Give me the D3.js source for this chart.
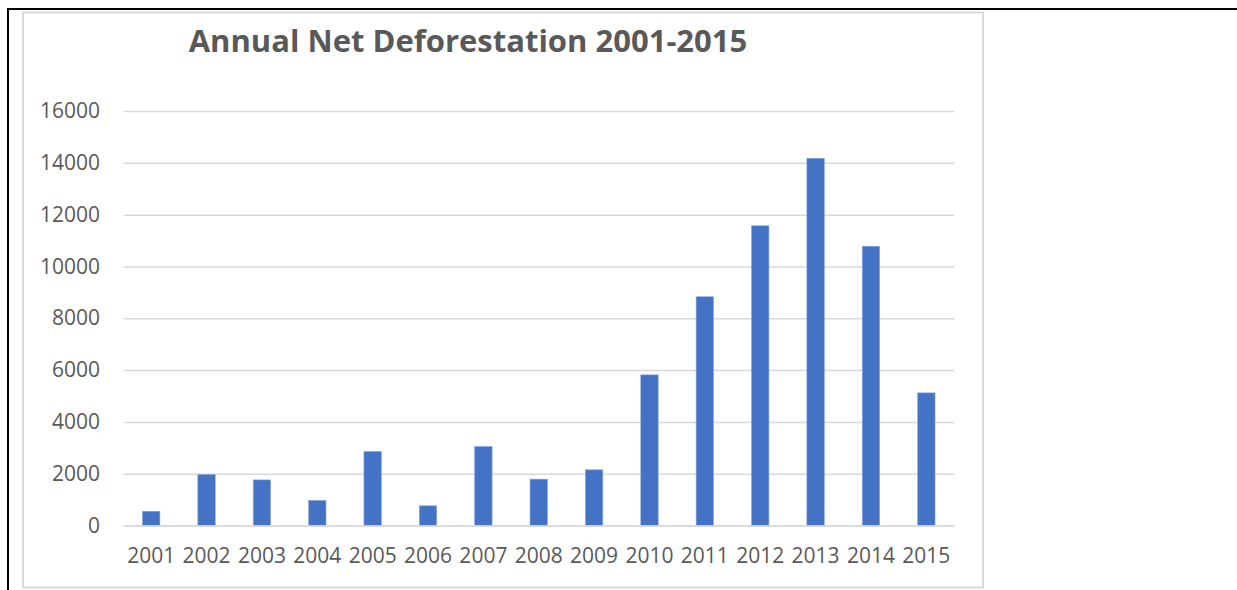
<!DOCTYPE html>
<html>
<head>
<meta charset="utf-8">
<script src="https://cdn.jsdelivr.net/npm/d3@7"></script>
<style>
  html, body { margin: 0; padding: 0; background: #fff; }
  svg { display: block; }
</style>
</head>
<body>
<div id="chart"></div>
<script>
"use strict";

// chart data
const years = ["2001", "2002", "2003", "2004", "2005", "2006", "2007", "2008",
               "2009", "2010", "2011", "2012", "2013", "2014", "2015"];
const deforestation = [550, 1970, 1760, 970, 2860, 760, 3050, 1790,
                       2150, 5815, 8830, 11570, 14175, 10780, 5120];
const yTicks = [0, 2000, 4000, 6000, 8000, 10000, 12000, 14000, 16000];
const chartTitle = "Annual Net Deforestation 2001-2015";

function draw() {
    const width = 1237, height = 590;
    const plot = { left: 123.5, right: 954, top: 111, bottom: 525.5 };
    const textColor = "#595959";
    const gridColor = "#d9d9d9";
    const font = "'Open Sans', 'Noto Sans', sans-serif";

    const svg = d3.select("#chart").append("svg")
        .attr("width", width)
        .attr("height", height);

    // black frame lines of the page around the chart
    svg.append("line")
        .attr("x1", 8).attr("y1", 9).attr("x2", width).attr("y2", 9)
        .attr("stroke", "#000").attr("stroke-width", 2);
    svg.append("line")
        .attr("x1", 8).attr("y1", 8).attr("x2", 8).attr("y2", height)
        .attr("stroke", "#000").attr("stroke-width", 2);

    // chart area border
    svg.append("rect")
        .attr("x", 23).attr("y", 12.5)
        .attr("width", 960).attr("height", 575)
        .attr("fill", "#fff")
        .attr("stroke", gridColor).attr("stroke-width", 2);

    const x = d3.scaleBand()
        .domain(years)
        .range([plot.left, plot.right])
        .padding(0);

    const y = d3.scaleLinear()
        .domain([0, 16000])
        .range([plot.bottom, plot.top]);

    // y axis with gridlines
    const yAxis = d3.axisLeft(y)
        .tickValues(yTicks)
        .tickSize(-(plot.right - plot.left))
        .tickPadding(23.5)
        .tickFormat(d3.format("d"));

    const gy = svg.append("g")
        .attr("transform", `translate(${plot.left},0)`)
        .call(yAxis);
    gy.select(".domain").remove();
    gy.selectAll(".tick line")
        .attr("stroke", gridColor)
        .attr("stroke-width", 1.5);
    gy.selectAll(".tick text")
        .attr("fill", textColor)
        .style("font-family", font)
        .style("font-size", "21px");

    // bars
    const barWidth = x.bandwidth() * 0.315;
    svg.append("g")
        .selectAll("rect")
        .data(deforestation)
        .join("rect")
        .attr("x", (d, i) => x(years[i]) + (x.bandwidth() - barWidth) / 2)
        .attr("y", d => y(d))
        .attr("width", barWidth)
        .attr("height", d => y(0) - y(d))
        .attr("fill", "#4472c4")
        .attr("stroke", "#8eaadc")
        .attr("stroke-width", 0.6);

    // x axis
    const xAxis = d3.axisBottom(x).tickSize(0).tickPadding(22.5);
    const gx = svg.append("g")
        .attr("transform", `translate(0,${plot.bottom})`)
        .call(xAxis);
    gx.select(".domain")
        .attr("stroke", gridColor)
        .attr("stroke-width", 1.5);
    gx.selectAll(".tick text")
        .attr("fill", textColor)
        .style("font-family", font)
        .style("font-size", "21px");

    // title
    svg.append("text")
        .attr("x", 468)
        .attr("y", 52)
        .attr("text-anchor", "middle")
        .attr("fill", textColor)
        .style("font-family", font)
        .style("font-weight", "bold")
        .style("font-size", "31px")
        .text(chartTitle);
}

draw();
</script>
</body>
</html>
